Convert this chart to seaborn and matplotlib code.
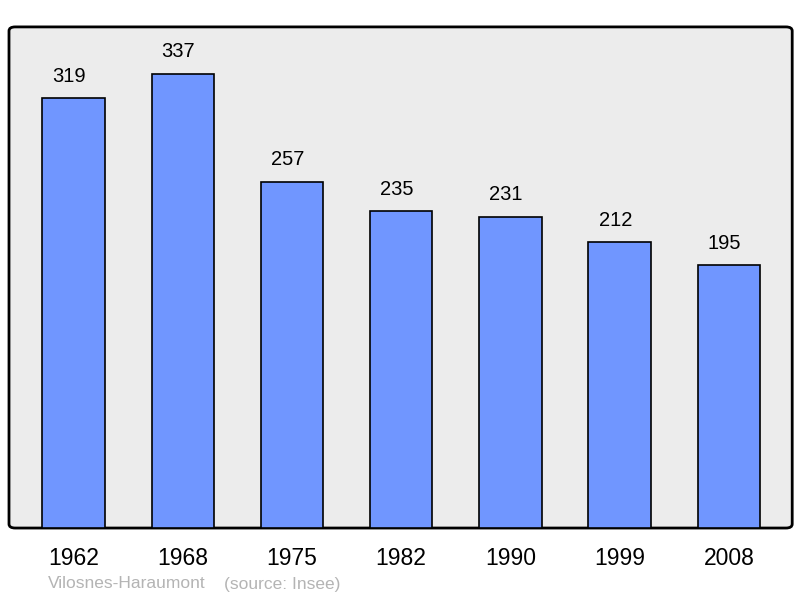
import pandas as pd
import matplotlib
matplotlib.use("Agg")
import matplotlib.pyplot as plt
import seaborn as sns
from matplotlib.patches import FancyBboxPatch

# Population data
years = ["1962", "1968", "1975", "1982", "1990", "1999", "2008"]
population = [319, 337, 257, 235, 231, 212, 195]
commune = "Vilosnes-Haraumont"
source = "(source: Insee)"

df = pd.DataFrame({"year": years, "population": population})

sns.set_style("white")
plt.rcParams['font.family'] = ['Liberation Sans', 'DejaVu Sans']

fig = plt.figure(figsize=(8, 5.98), dpi=100)
ax = fig.add_axes([0.01125, 0.117, 0.979, 0.838])

sns.barplot(
    data=df, x="year", y="population", ax=ax,
    color="#7096ff", saturation=1, width=0.57,
    edgecolor="black", linewidth=1.2, zorder=3
)

# Value labels above bars
for i, v in enumerate(population):
    ax.annotate(str(v), (i, v), xytext=(-3, 16), textcoords="offset points",
                ha="center", va="center", fontsize=14.5, color="black")

ax.set_xlim(-0.59, 6.58)
ax.set_ylim(0, 372)
ax.set_xlabel("")
ax.set_ylabel("")
ax.set_yticks([])
ax.tick_params(axis="x", length=0, pad=13.5, labelsize=16.5, labelcolor="black")
ax.set_facecolor("none")
for s in ax.spines.values():
    s.set_visible(False)

# Grey rounded frame
frame = FancyBboxPatch((0, 0), 1, 1, boxstyle="round,pad=0,rounding_size=0.008",
                       transform=ax.transAxes, facecolor="#ececec",
                       edgecolor="black", linewidth=2, zorder=0, clip_on=False)
ax.add_patch(frame)

fig.text(48 / 800, 1 - 584 / 598, commune, fontsize=12.5, color="#b4b4b4",
         ha="left", va="center")
fig.text(224 / 800, 1 - 584 / 598, source, fontsize=12.5, color="#b4b4b4",
         ha="left", va="center")

fig.savefig("out.png", dpi=100)
